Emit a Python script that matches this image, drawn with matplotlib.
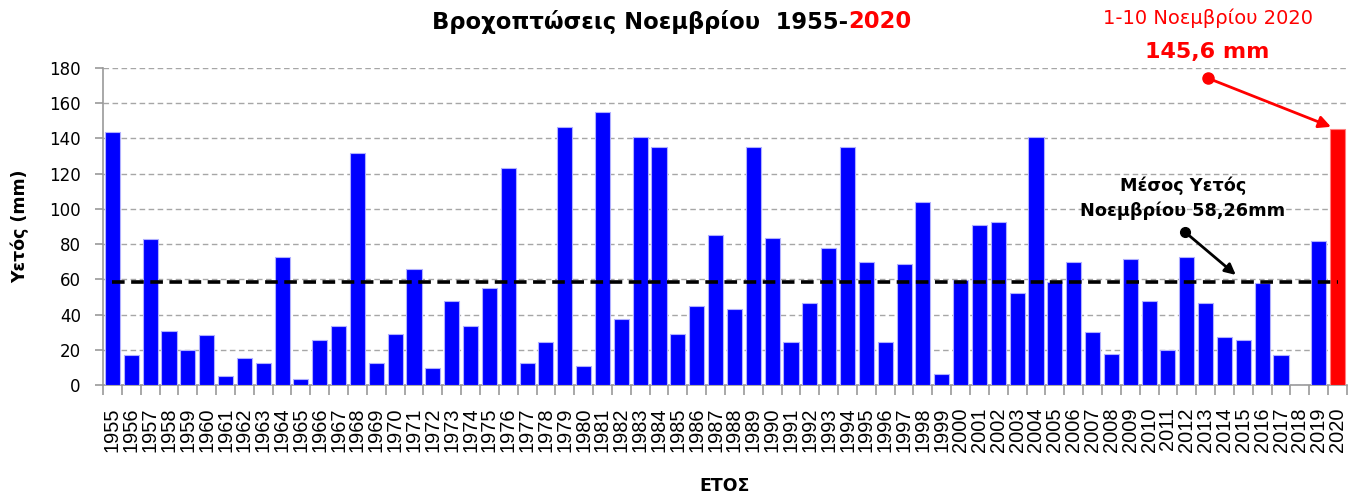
import matplotlib
matplotlib.use("Agg")
import matplotlib.pyplot as plt
import matplotlib.transforms as mtransforms
import numpy as np
from matplotlib.ticker import FixedLocator

years = list(range(1955, 2021))
rain = [143.6, 17.0, 82.7, 30.8, 19.9, 28.2, 5.1, 15.1, 12.3, 72.5,
        3.2, 25.3, 33.7, 131.5, 12.3, 28.9, 66.0, 9.6, 47.5, 33.7,
        54.8, 123.4, 12.3, 24.4, 146.4, 10.6, 154.8, 37.3, 140.7, 135.3,
        28.9, 44.6, 85.4, 43.0, 135.3, 83.4, 24.4, 46.5, 78.0, 135.3,
        69.6, 24.4, 68.7, 103.9, 6.0, 59.6, 91.0, 92.7, 52.0, 140.8,
        58.6, 69.7, 29.9, 17.6, 71.5, 47.9, 19.7, 72.5, 46.5, 27.1,
        25.4, 57.7, 17.0, 0.0, 81.7, 145.6]
mean_rain = 58.26
title_main = "Βροχοπτώσεις Νοεμβρίου  1955-"
title_red = "2020"
ylabel = "Υετός (mm)"
xlabel = "ΕΤΟΣ"
note_red_1 = "1-10 Νοεμβρίου 2020"
note_red_2 = "145,6 mm"
note_mean = "Μέσος Υετός\nΝοεμβρίου 58,26mm"

plt.rcParams['font.family'] = ['DejaVu Sans']

fig = plt.figure(figsize=(13.6, 4.95), dpi=100)
ax = fig.add_axes([103/1360, 1-385/495, (1347-103)/1360, (385-68)/495])

x = np.arange(len(years))
colors = ['#0000ff'] * (len(years) - 1) + ['#ff0000']
edges = ['#b0b0ff'] * (len(years) - 1) + ['#ff8080']
ax.bar(x, rain, width=0.8, color=colors, edgecolor=edges, linewidth=0.8, zorder=3)

ax.set_xlim(-0.5, len(years) - 0.5)
ax.set_ylim(0, 180)
ax.set_yticks(np.arange(0, 181, 20))
ax.yaxis.grid(True, color='#a6a6a6', linestyle=(0, (4, 2.5)), linewidth=1.0, zorder=0)
ax.set_axisbelow(True)

ax.set_xticks(x)
ax.set_xticklabels([str(y) for y in years], rotation=90, fontsize=14.4,
                   family='Liberation Sans', va='top')
ax.xaxis.set_minor_locator(FixedLocator(np.arange(-0.5, len(years), 1)))
ax.tick_params(axis='x', which='major', length=0, pad=16)
ax.tick_params(axis='x', which='minor', length=7, color='#999999', width=1.2)
ax.tick_params(axis='y', length=6, color='#999999', width=1.2, labelsize=12, pad=10)

for s in ['top', 'right']:
    ax.spines[s].set_visible(False)
for s in ['left', 'bottom']:
    ax.spines[s].set_color('#999999')
    ax.spines[s].set_linewidth(1.2)

# mean line
ax.plot([x[0], x[-1]], [mean_rain, mean_rain], color='black', linestyle=(0, (3.5, 1.8)),
        linewidth=2.6, zorder=4)

ax.set_ylabel(ylabel, fontsize=12.5, fontweight='bold', labelpad=14)
ax.set_xlabel(xlabel, fontsize=12.5, fontweight='bold', labelpad=18)

# title in two colours
t1 = fig.text(432/1360, 1-22/495, title_main, fontsize=16.3, fontweight='bold',
              ha='left', va='center', color='black')
fig.canvas.draw()
bb = t1.get_window_extent(renderer=fig.canvas.get_renderer())
fig.text(bb.x1/1360, 1-22/495, title_red, fontsize=16.3, fontweight='bold',
         ha='left', va='center', color='#ff0000')

# red annotation
blend = mtransforms.blended_transform_factory(ax.transData, fig.transFigure)
ax.text(58.1, 1-18/495, note_red_1, transform=blend,
        ha='center', va='center', color='#ff0000', fontsize=14)
ax.text(58.1, 1-52/495, note_red_2, transform=blend,
        ha='center', va='center', color='#ff0000', fontsize=16, fontweight='bold')
red_start = (58.1, 174.3)
ax.annotate('', xy=(x[-1] - 0.35, rain[-1] + 1), xytext=red_start,
            arrowprops=dict(arrowstyle='-|>', color='#ff0000', lw=2, mutation_scale=18,
                            shrinkA=0, shrinkB=0), annotation_clip=False, zorder=6)
ax.plot([red_start[0]], [red_start[1]], 'o', color='#ff0000', markersize=8, clip_on=False, zorder=6)

# mean annotation
ax.text(56.8, 106, note_mean, ha='center', va='center', fontsize=12.7, fontweight='bold',
        color='black', linespacing=1.5, zorder=6)
blk_start = (56.9, 86.9)
ax.annotate('', xy=(59.6, 62.5), xytext=blk_start,
            arrowprops=dict(arrowstyle='-|>', color='black', lw=2, mutation_scale=16,
                            shrinkA=0, shrinkB=0), zorder=6)
ax.plot([blk_start[0]], [blk_start[1]], 'o', color='black', markersize=7, zorder=6)

fig.savefig('out.png', dpi=100)
